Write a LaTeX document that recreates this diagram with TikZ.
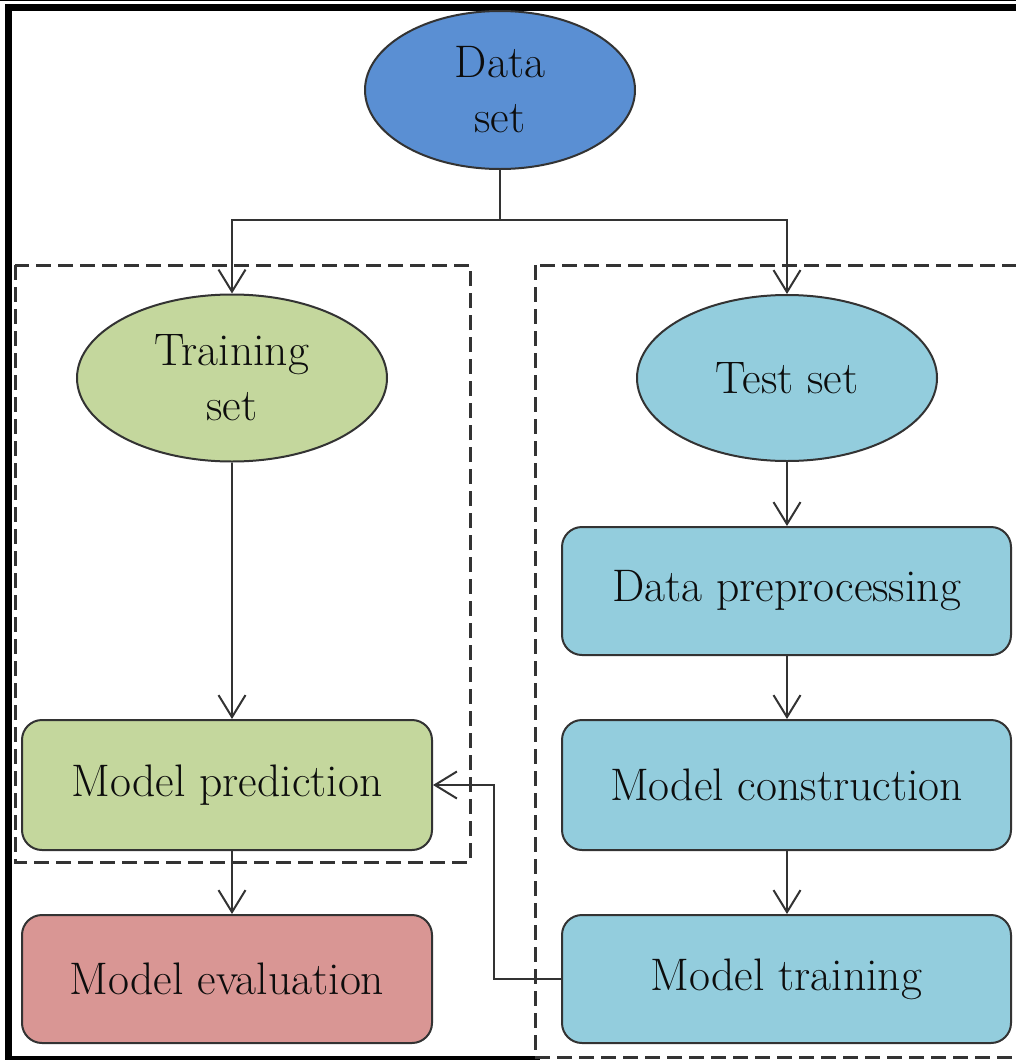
\documentclass[tikz,border=0pt]{standalone}
\usepackage{tikz}
\usetikzlibrary{shapes.geometric,arrows.meta}

\definecolor{dataBlue}{HTML}{5A8FD3}
\definecolor{trainGreen}{HTML}{C4D79D}
\definecolor{testBlue}{HTML}{93CDDD}
\definecolor{evalRed}{HTML}{D99694}

\begin{document}
\begin{tikzpicture}
		[x=0.5pt,y=-0.5pt,line cap=butt,
		%Styles
		every node/.style={font=\fontsize{22.8}{27.5}\selectfont,text=black!95,align=center},
		set ellipse/.style={ellipse,draw=black!80,line width=1pt,inner sep=0pt},
		step box/.style={rectangle,rounded corners=10pt,draw=black!80,line width=1pt,inner sep=0pt},
		flow line/.style={black!80,line width=1pt},
		flow arrow/.style={flow line,-{Straight Barb[length=11pt,width=13.5pt,line width=1pt]}},
		group frame/.style={black!80,line width=1.5pt,dash pattern=on 7.5pt off 3.5pt}
		]
		
		\useasboundingbox (0,0) rectangle (1016,1060);
		\clip (0,0) rectangle (1016,1060);
		
		%Frame
		\draw[black,line width=0.5pt] (0,0.5) -- (1016,0.5);
		\draw[black,line width=3.5pt] (1016,7) -- (8.5,7) -- (8.5,1060);
		\draw[black,line width=2pt] (8.5,1058) -- (540,1058);
		
		%Groups
		\draw[group frame] (15,265) rectangle (470,862);
		\draw[group frame] (535,265) rectangle (1040,1057);
		
		%The graphic
		\node[set ellipse,fill=dataBlue,minimum width=135pt,minimum height=79pt] (data) at (500,90) {Data\\set};
		\node[set ellipse,fill=trainGreen,minimum width=155pt,minimum height=83.5pt] (train) at (232,378) {Training\\set};
		\node[set ellipse,fill=testBlue,minimum width=150pt,minimum height=83pt] (test) at (787,378) {Test set};
		
		\node[step box,fill=trainGreen,minimum width=205pt,minimum height=65pt] (pred) at (227,785) {Model prediction};
		\node[step box,fill=evalRed,minimum width=205pt,minimum height=64pt] (eval) at (227,979) {Model evaluation};
		
		\node[step box,fill=testBlue,minimum width=224.5pt,minimum height=64pt] (prep) at (786.5,591) {Data preprocessing};
		\node[step box,fill=testBlue,minimum width=224.5pt,minimum height=65pt] (constr) at (786.5,785) {Model construction};
		\node[step box,fill=testBlue,minimum width=224.5pt,minimum height=64pt] (mtrain) at (786.5,979) {Model training};
		
		%Connectors
		\draw[flow line] (data.south) -- ++(0,50) coordinate (split);
		\draw[flow arrow] (split) -| (train.north);
		\draw[flow arrow] (split) -| (test.north);
		
		\draw[flow arrow] (train.south) -- (train.south |- pred.north);
		\draw[flow arrow] (train.south |- pred.south) -- (train.south |- eval.north);
		
		\draw[flow arrow] (test.south) -- (test.south |- prep.north);
		\draw[flow arrow] (test.south |- prep.south) -- (test.south |- constr.north);
		\draw[flow arrow] (test.south |- constr.south) -- (test.south |- mtrain.north);
		
		\draw[flow arrow] (mtrain.west) -- ++(-67,0) |- (pred.east);
	\end{tikzpicture}
\end{document}
